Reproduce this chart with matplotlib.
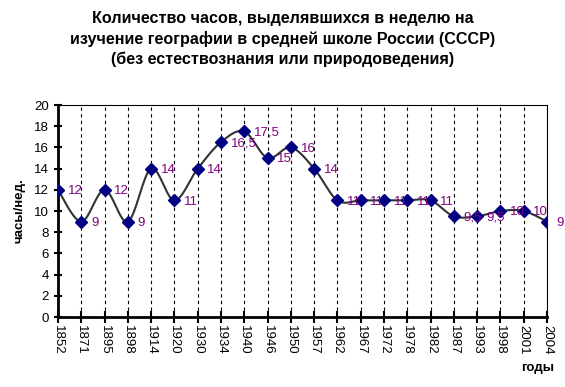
import numpy as np
import matplotlib.pyplot as plt

plt.rcParams['font.family'] = ['Liberation Sans', 'DejaVu Sans']

# данные
years = ['1852', '1871', '1895', '1898', '1914', '1920', '1930', '1934', '1940',
         '1946', '1950', '1957', '1962', '1967', '1972', '1978', '1982', '1987',
         '1993', '1998', '2001', '2004']
hours = [12, 9, 12, 9, 14, 11, 14, 16.5, 17.5, 15, 16, 14, 11, 11, 11, 11, 11,
         9.5, 9.5, 10, 10, 9]


# сглаживание как в Excel (кривые Безье по Катмуллу-Рому)
def smooth(x, y, n=20):
    x = np.asarray(x, float)
    y = np.asarray(y, float)
    xs, ys = [], []
    for i in range(len(x) - 1):
        p0 = (x[i - 1], y[i - 1]) if i > 0 else (x[i], y[i])
        p1 = (x[i], y[i])
        p2 = (x[i + 1], y[i + 1])
        p3 = (x[i + 2], y[i + 2]) if i + 2 < len(x) else (x[i + 1], y[i + 1])
        c1 = (p1[0] + (p2[0] - p0[0]) / 6, p1[1] + (p2[1] - p0[1]) / 6)
        c2 = (p2[0] - (p3[0] - p1[0]) / 6, p2[1] - (p3[1] - p1[1]) / 6)
        t = np.linspace(0, 1, n)
        for k in range(2):
            pts = [p1[k], c1[k], c2[k], p2[k]]
            v = ((1 - t) ** 3 * pts[0] + 3 * (1 - t) ** 2 * t * pts[1]
                 + 3 * (1 - t) * t ** 2 * pts[2] + t ** 3 * pts[3])
            (xs if k == 0 else ys).append(v)
    return np.concatenate(xs), np.concatenate(ys)


def main():
    fig = plt.figure(figsize=(5.65, 3.87), dpi=100)
    ax = fig.add_axes([58 / 565, 1 - 317 / 387, (547 - 58) / 565, (317 - 105) / 387])

    x = np.arange(len(years))
    sx, sy = smooth(x, hours)
    ax.plot(sx, sy, color='#333333', lw=1.5, zorder=3)
    ax.plot(x, hours, ls='none', marker='D', ms=6.5, color='#000080', zorder=4)

    for xi, yi in zip(x, hours):
        lab = str(yi).replace('.', ',') if yi % 1 else str(int(yi))
        ax.annotate(lab, (xi, yi), xytext=(7, -1), textcoords='offset points',
                    ha='left', va='center', fontsize=9.5, color='#800080', zorder=5)

    ax.set_xlim(0, len(years) - 1)
    ax.set_ylim(0, 20)
    ax.set_yticks(range(0, 21, 2))
    ax.set_xticks(x)
    ax.set_xticklabels(years, rotation=270, fontsize=9.5)
    ax.tick_params(axis='y', labelsize=9.5, direction='inout', length=6, width=1.5)
    ax.tick_params(axis='x', direction='inout', length=8, width=1.5, pad=2)

    ax.grid(axis='x', color='black', ls=(0, (3, 3)), lw=0.8)
    ax.set_axisbelow(True)

    ax.spines['left'].set_linewidth(2)
    ax.spines['bottom'].set_linewidth(2)
    ax.spines['top'].set_linewidth(0.8)
    ax.spines['right'].set_linewidth(0.8)

    ax.set_ylabel('часы/нед.', fontsize=9.5, fontweight='bold', labelpad=6)
    fig.text(538 / 565, 1 - 368 / 387, 'годы', fontsize=9.5, fontweight='bold',
             ha='center', va='center')

    fig.text(0.5, 1 - 39 / 387,
             'Количество часов, выделявшихся в неделю на\n'
             'изучение географии в средней школе России (СССР)\n'
             '(без естествознания или природоведения)',
             ha='center', va='center', fontsize=11.6, fontweight='bold',
             linespacing=1.4)

    fig.savefig('out.png', dpi=100)


if __name__ == '__main__':
    main()
